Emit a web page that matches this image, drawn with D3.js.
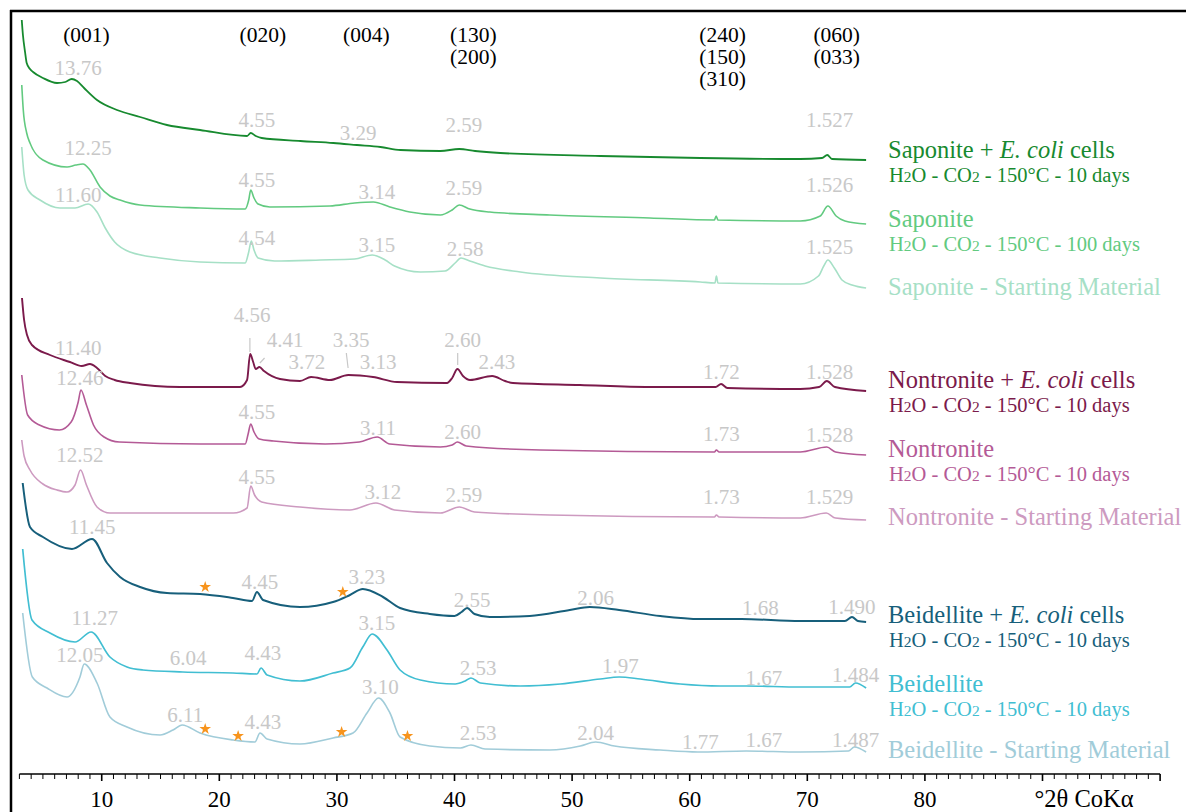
<!DOCTYPE html>
<html>
<head>
<meta charset="utf-8">
<script src="https://cdn.jsdelivr.net/npm/d3@7"></script>
<style>
  body { margin: 0; background: #fff; }
  text { font-family: "Liberation Serif", "Times New Roman", serif; }
</style>
</head>
<body>
<script>
// XRD patterns, [°2θ CoKα, intensity a.u.]
var sapEcoli = [[3.2,754],[3.3,739],[3.48,722],[3.62,711],[3.9,705],[4.16,702],[5.0,696],[6.2,691],[6.9,692],[7.45,695],[7.9,693],[8.5,686],[9.6,674],[11.3,664],[13.26,657],[15.55,649],[18.36,644],[22.36,638],[22.67,641],[23.1,638],[23.6,636],[26.9,633],[29.7,631],[31.7,629],[33.7,627],[35.4,624],[38.8,623],[40.4,625],[41.75,623],[43.9,621],[52.4,618],[60.9,616],[69.4,615],[71.25,616],[71.7,619],[72.1,615],[75,614]];
var sap100 = [[3.2,689],[3.33,664],[3.62,641],[3.9,631],[5.0,614],[7.05,607],[7.8,609],[8.4,610],[9.0,604],[9.86,587],[10.7,578],[11.56,574],[13.26,569],[18.36,566],[22.2,565],[22.5,574],[22.67,584],[22.95,576],[23.3,570],[24.3,567],[29.4,568],[31.5,571],[33.1,572],[34.5,567],[36.2,562],[38.8,559],[39.8,564],[40.4,569],[41.3,565],[43,562],[48.1,559],[56.6,556],[62.1,554],[62.25,558],[62.4,554],[69.4,553],[71.1,558],[71.75,568],[72.45,558],[73.2,553],[75,550]];
var sapStart = [[3.2,627],[3.4,599],[3.73,584],[4.75,574],[6.45,566],[7.73,566],[8.85,570],[9.6,562],[10.3,546],[11.1,532],[12.4,522],[14.96,516],[18.36,512],[22.2,511],[22.5,522],[22.72,533],[22.95,524],[23.3,516],[24.7,513],[28.6,514],[31.5,515],[33.0,519],[34.1,514],[34.9,508],[37.1,502],[39.2,503],[40.05,511],[40.55,516],[41.3,513],[42.6,508],[45.6,502],[52.4,496],[60.9,492],[62.15,491],[62.27,498],[62.4,491],[69.4,490],[70.95,498],[71.4,508],[71.75,514],[72.3,506],[72.95,494],[73.8,489],[75,486]];

var nonEcoli = [[3.22,476],[3.4,454],[3.65,439],[4.07,429],[5.6,419],[7.3,412],[8.3,408],[9.0,410],[9.6,406],[10.3,398],[11.1,394],[12.4,391],[16.66,387],[21.76,387],[22.36,394],[22.62,420],[22.88,412],[23.1,405],[23.41,407],[23.8,403],[25.16,395],[26.86,393],[27.8,397],[29.41,394],[30.97,399],[33.07,397],[35.11,392],[39.36,391],[39.8,396],[40.25,405],[40.72,398],[41.32,394],[43.2,398],[44.3,393],[44.97,391],[50.67,389],[56.6,387],[62.2,387],[62.67,390],[63.2,386],[69.4,385],[71.0,387],[71.66,393],[72.35,387],[75,383]];
var non10 = [[3.2,399],[3.7,359],[4.7,349],[6.4,344],[7.4,352],[8.0,372],[8.23,384],[8.7,369],[9.3,349],[10.2,337],[11.5,332],[18.4,330],[22.2,330],[22.45,340],[22.67,350],[22.95,342],[23.4,335],[24.6,333],[29,330],[31.9,332],[33.43,337],[34.5,330],[38.8,327],[39.8,329],[40.24,332],[41.0,328],[47.3,324],[62.1,322],[62.27,324],[62.5,322],[69.4,322],[71.66,327],[72.4,322],[75,319]];
var nonStart = [[3.2,334],[3.4,318],[3.9,304],[5.0,290],[6.2,284],[7.05,282],[7.73,289],[8.2,304],[8.7,289],[9.6,267],[10.7,261],[12.4,261],[21.2,261],[22.36,266],[22.67,288],[23.0,279],[23.6,272],[26.86,267],[31.1,264],[33.32,271],[34.9,264],[38.8,261],[40.41,267],[41.7,262],[48.1,259],[62.1,257],[62.27,259],[62.5,257],[69.4,256],[71.61,261],[72.4,256],[75,254]];

var beiEcoli = [[3.28,291],[3.9,247],[5.0,237],[7.47,225],[9.18,235],[10.45,211],[11.56,197],[13.26,187],[15.55,181],[18.36,180],[21.16,176],[22.78,173],[23.2,182],[23.72,174],[26.86,167],[29.67,172],[31.11,179],[32.2,185],[33.92,177],[35.37,166],[37.9,160],[40.0,158],[40.6,162],[41.07,166],[41.7,160],[43,157],[46.4,158],[49.8,164],[51.5,167],[54,164],[57.5,158],[60.9,155],[64.4,155],[69.4,153],[73.2,153],[73.8,157],[74.3,153],[75,152]];
var bei10 = [[3.28,225],[4.07,154],[5.6,141],[7.73,132],[9.1,142],[10.7,117],[12.15,107],[13.5,104],[16.9,102],[21.16,101],[23.2,100],[23.55,106],[24.06,99],[26.86,93],[29.67,101],[31.11,106],[32.2,127],[33.0,140],[34.26,124],[35.37,104],[37.1,94],[40.05,90],[40.9,93],[41.4,96],[42.2,91],[45.6,88],[49,90],[52.4,95],[54,97],[55.8,95],[59.2,90],[62.6,88],[64.8,88],[69.4,87],[73.6,87],[74.1,91],[75,86]];
var beiStart = [[3.28,161],[4.1,97],[5.35,86],[7.05,77],[8.15,97],[8.51,110],[9.6,91],[10.7,57],[12.15,47],[14.96,39],[16.06,44],[16.84,49],[18.36,41],[21.16,34],[23.03,32],[23.46,41],[24.06,35],[26.86,30],[29.67,36],[31.37,41],[32.56,61],[33.54,76],[34.51,61],[35.37,37],[37.9,28],[40.5,26],[41.4,29],[42.6,25],[48.1,24],[50.7,28],[52,32],[53.6,28],[57.5,24],[60.7,22],[64.8,23],[69.4,22],[73.5,23],[74,27],[75,22]];

// d-spacing labels (Å): [text, °2θ, intensity]
var sapEcoliLabels = [["13.76",8.0,706],["4.55",23.2,654],["3.29",31.8,641],["2.59",40.8,649],["1.527",71.9,654]];
var sap100Labels = [["12.25",8.85,626],["4.55",23.2,594],["3.14",33.4,582],["2.59",40.8,586],["1.526",71.9,589]];
var sapStartLabels = [["11.60",8.0,579],["4.54",23.2,536],["3.15",33.4,529],["2.58",40.9,525],["1.525",71.9,527]];
var nonEcoliLabels = [["11.40",8.0,426],["4.56",22.8,459],["4.41",25.6,434],["3.72",27.45,412],["3.35",31.2,434],["3.13",33.5,412],["2.60",40.7,434],["2.43",43.6,412],["1.72",62.7,402],["1.528",71.9,402]];
var non10Labels = [["12.46",8.15,396],["4.55",23.2,362],["3.11",33.5,346],["2.60",40.7,342],["1.73",62.7,340],["1.528",71.9,339]];
var nonStartLabels = [["12.52",8.15,319],["4.55",23.2,297],["3.12",33.9,282],["2.59",40.8,279],["1.73",62.7,277],["1.529",71.9,277]];
var beiEcoliLabels = [["11.45",9.2,247],["4.45",23.45,192],["3.23",32.55,197],["2.55",41.5,174],["2.06",52,176],["1.68",66,166],["1.490",73.8,167]];
var bei10Labels = [["11.27",9.4,156],["6.04",17.35,116],["4.43",23.7,121],["3.15",33.4,151],["2.53",42,106],["1.97",54.1,108],["1.67",66.3,96],["1.484",74.1,99]];
var beiStartLabels = [["12.05",8.15,119],["6.11",17.1,59],["4.43",23.7,52],["3.10",33.7,87],["2.53",42,41],["2.04",52,41],["1.77",60.9,32],["1.67",66.3,34],["1.487",74.1,34]];

// small pointer strokes under some labels: [θ1, I1, θ2, I2]
var pointers = [[22.6,436,22.6,422],[23.45,411,23.85,416],[30.8,421,30.95,406],[40.27,421,40.27,409]];

// impurity stars
var starsEcoli = [[18.8,187],[30.5,182]];
var starsStart = [[18.8,45],[21.6,38],[30.4,42],[36.0,38]];

// Miller indices on top
var hkl = [["(001)",8.7],["(020)",23.7],["(004)",32.5],["(130)|(200)",41.6],["(240)|(150)|(310)",62.8],["(060)|(033)",72.5]];

var xTicks = [10, 20, 30, 40, 50, 60, 70, 80];

var samples = [
  {data: sapEcoli, labels: sapEcoliLabels, color: "#178a2f", name: ["Saponite + ", "E. coli", " cells"], sub: "10 days", w: 1.8},
  {data: sap100, labels: sap100Labels, color: "#62ca80", name: ["Saponite"], sub: "100 days", w: 1.6},
  {data: sapStart, labels: sapStartLabels, color: "#a6e0c6", name: ["Saponite - Starting Material"], w: 1.6},
  {data: nonEcoli, labels: nonEcoliLabels, color: "#7b1a4b", name: ["Nontronite + ", "E. coli", " cells"], sub: "10 days", w: 1.9},
  {data: non10, labels: non10Labels, color: "#b45a96", name: ["Nontronite"], sub: "10 days", w: 1.6},
  {data: nonStart, labels: nonStartLabels, color: "#cd9ac0", name: ["Nontronite - Starting Material"], w: 1.6},
  {data: beiEcoli, labels: beiEcoliLabels, color: "#175f7b", name: ["Beidellite + ", "E. coli", " cells"], sub: "10 days", w: 2},
  {data: bei10, labels: bei10Labels, color: "#41bed2", name: ["Beidellite"], sub: "10 days", w: 1.7},
  {data: beiStart, labels: beiStartLabels, color: "#a1ccd9", name: ["Beidellite - Starting Material"], w: 1.6}
];
// legend baselines in px
var legendY = [158, 227, 295, 388, 457, 525, 623, 692, 758];

var W = 1186, H = 812;
var x = d3.scaleLinear().domain([3, 100]).range([19.4, 1160.1]);
var y = d3.scaleLinear().domain([0, 763]).range([774, 11]);

var svg = d3.select("body").append("svg")
    .attr("width", W)
    .attr("height", H);

// frame (left and top edges only are inside the picture)
svg.append("line").attr("x1", 11).attr("x2", 11).attr("y1", 10).attr("y2", H)
    .attr("stroke", "#000").attr("stroke-width", 2.5);
svg.append("line").attr("x1", 10).attr("x2", W).attr("y1", 11).attr("y2", 11)
    .attr("stroke", "#000").attr("stroke-width", 2.5);

var line = d3.line()
    .x(function(d) { return x(d[0]); })
    .y(function(d) { return y(d[1]); })
    .curve(d3.curveMonotoneX);

var grey = "#c8c8c8";

samples.forEach(function(s, i) {
  svg.append("path")
    .datum(s.data)
    .attr("fill", "none")
    .attr("stroke", s.color)
    .attr("stroke-width", s.w)
    .attr("stroke-linejoin", "round")
    .attr("d", line);

  svg.append("g").selectAll("text")
    .data(s.labels)
    .enter().append("text")
    .attr("x", function(d) { return x(d[1]); })
    .attr("y", function(d) { return y(d[2]); })
    .attr("dy", "0.35em")
    .attr("text-anchor", "middle")
    .attr("fill", grey)
    .style("font-size", "21px")
    .text(function(d) { return d[0]; });

  // sample names on the right
  var t = svg.append("text")
    .attr("x", 888)
    .attr("y", legendY[i])
    .attr("fill", s.color)
    .style("font-size", "24.5px");
  t.append("tspan").text(s.name[0]);
  if (s.name.length > 1) {
    t.append("tspan").style("font-style", "italic").text(s.name[1]);
    t.append("tspan").text(s.name[2]);
  }
  if (s.sub) {
    var st = svg.append("text")
      .attr("x", 889)
      .attr("y", legendY[i] + 24)
      .attr("fill", s.color)
      .style("font-size", "20.5px");
    st.append("tspan").text("H");
    st.append("tspan").style("font-size", "15.5px").text("2");
    st.append("tspan").text("O - CO");
    st.append("tspan").style("font-size", "15.5px").text("2");
    st.append("tspan").text(" - 150°C - " + s.sub);
  }
});

svg.append("g").selectAll("line")
  .data(pointers)
  .enter().append("line")
  .attr("x1", function(d) { return x(d[0]); })
  .attr("y1", function(d) { return y(d[1]); })
  .attr("x2", function(d) { return x(d[2]); })
  .attr("y2", function(d) { return y(d[3]); })
  .attr("stroke", grey)
  .attr("stroke-width", 1.2);

var star = d3.symbol().type(d3.symbolStar).size(42);
svg.append("g").selectAll("path")
  .data(starsEcoli.concat(starsStart))
  .enter().append("path")
  .attr("d", star)
  .attr("transform", function(d) { return "translate(" + x(d[0]) + "," + y(d[1]) + ")"; })
  .attr("fill", "#f7941d");

// hkl labels, stacked lines split on |
hkl.forEach(function(h) {
  h[0].split("|").forEach(function(lbl, j) {
    svg.append("text")
      .attr("x", x(h[1]))
      .attr("y", 42 + j * 22)
      .attr("text-anchor", "middle")
      .attr("fill", "#000")
      .style("font-size", "21.5px")
      .text(lbl);
  });
});

// x axis
var axis = svg.append("g")
    .attr("transform", "translate(0," + 774 + ")");
axis.append("line")
    .attr("x1", x(3)).attr("x2", x(100))
    .attr("stroke", "#000").attr("stroke-width", 1.6);
axis.selectAll(".minor")
    .data(d3.range(3, 101))
    .enter().append("line")
    .attr("x1", function(d) { return x(d); })
    .attr("x2", function(d) { return x(d); })
    .attr("y1", 0)
    .attr("y2", function(d) { return d % 10 === 0 ? 7 : 5; })
    .attr("stroke", "#000")
    .attr("stroke-width", function(d) { return d % 10 === 0 ? 1.6 : 1; });
axis.selectAll(".lbl")
    .data(xTicks)
    .enter().append("text")
    .attr("x", function(d) { return x(d); })
    .attr("y", 33)
    .attr("text-anchor", "middle")
    .style("font-size", "23px")
    .text(function(d) { return d; });
axis.append("text")
    .attr("x", x(90) - 8)
    .attr("y", 33)
    .style("font-size", "24.5px")
    .text("°2θ CoKα");
</script>
</body>
</html>
